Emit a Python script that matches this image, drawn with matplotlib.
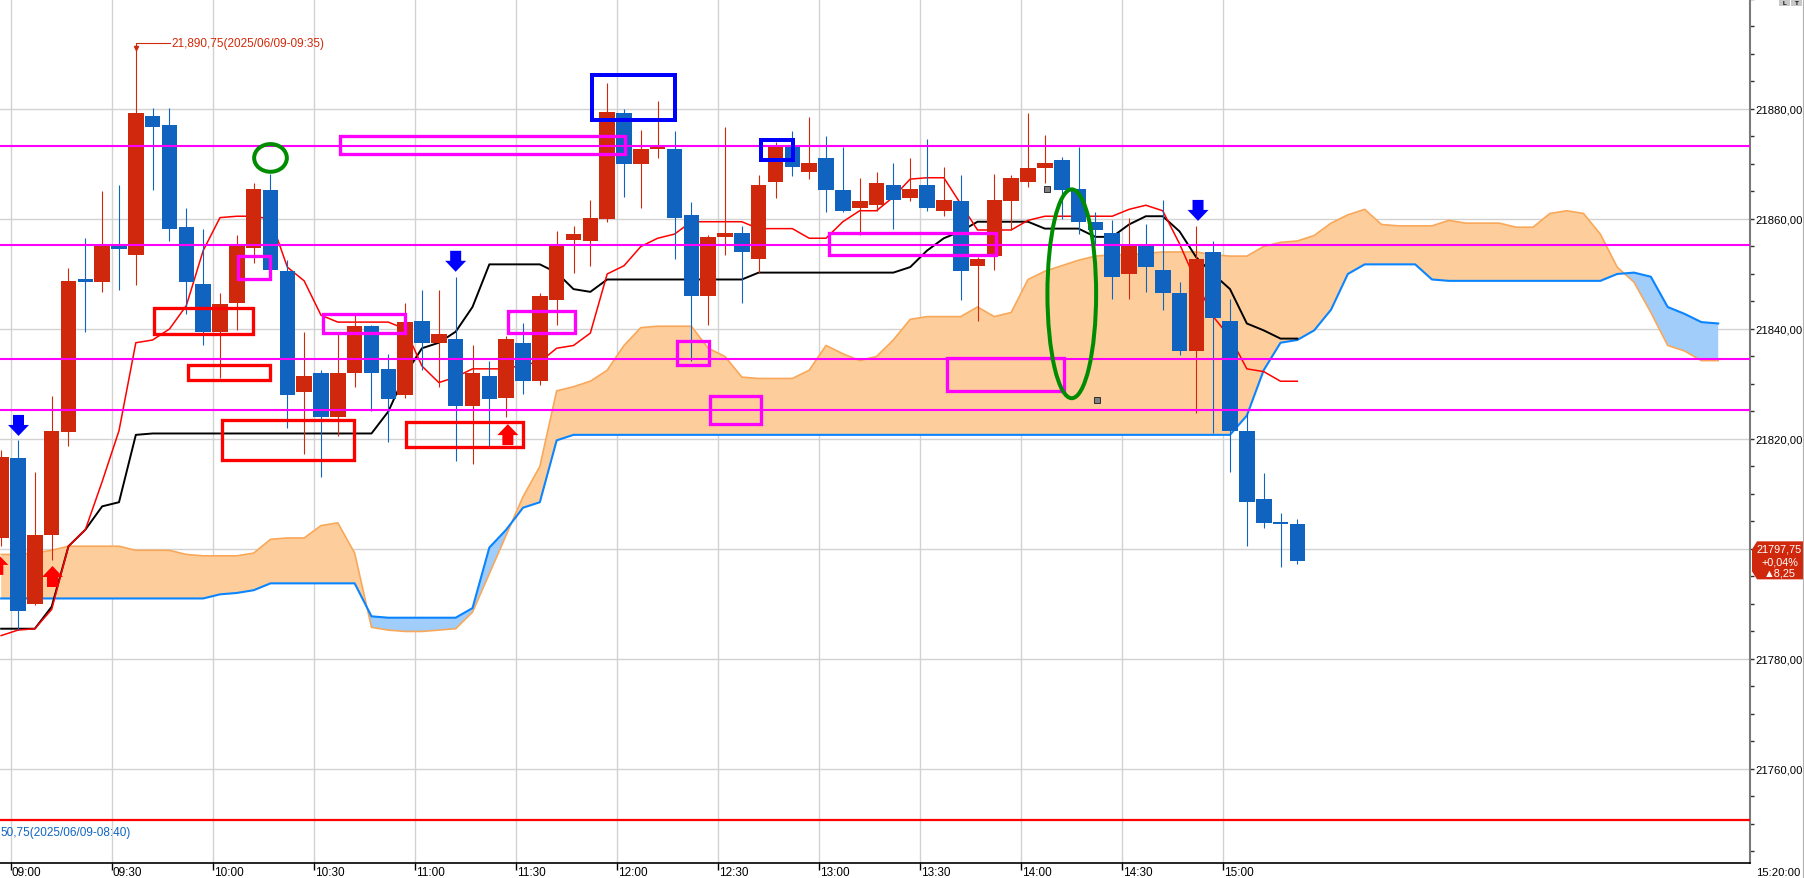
#!/usr/bin/env python3
import matplotlib
matplotlib.use("Agg")
import matplotlib.pyplot as plt
import matplotlib.ticker as mticker
from matplotlib.patches import Rectangle, Ellipse, Polygon
from matplotlib.transforms import blended_transform_factory

FONT = ['Liberation Sans', 'DejaVu Sans']
plt.rcParams['font.family'] = FONT

# ---- 5-minute bars, index 0 = 09:00 bar ----
BAR_INDEX = list(range(-1, 77))
OPEN = [
    21802.0, 21816.5, 21790.0, 21802.5, 21821.25, 21849.0, 21848.5, 21855.5, 21853.5, 21878.75,
    21877.0, 21858.5, 21848.25, 21839.5, 21844.75, 21854.75, 21865.25, 21850.5, 21828.5, 21832.0,
    21824.0, 21832.0, 21840.5, 21832.75, 21828.0, 21841.5, 21837.5, 21838.25, 21826.0, 21831.5,
    21827.5, 21837.5, 21830.5, 21845.25, 21856.25, 21856.0, 21860.0, 21879.25, 21870.0, 21872.75,
    21872.75, 21860.75, 21846.0, 21856.75, 21857.5, 21852.75, 21866.75, 21873.5, 21868.5, 21871.0,
    21865.25, 21862.0, 21862.5, 21866.25, 21863.75, 21866.25, 21861.5, 21863.25, 21851.5, 21853.25,
    21863.25, 21866.75, 21869.25, 21870.75, 21865.5, 21859.5, 21857.5, 21850.0, 21855.5, 21850.75,
    21846.5, 21836.0, 21854.0, 21841.5, 21821.5, 21809.0, 21804.75, 21804.5]
HIGH = [
    21818.0, 21819.75, 21814.0, 21827.75, 21851.0, 21856.5, 21865.0, 21866.25, 21890.75, 21880.25,
    21880.25, 21862.0, 21858.25, 21846.5, 21857.0, 21866.5, 21868.25, 21852.5, 21839.5, 21832.5,
    21839.0, 21842.5, 21840.75, 21835.5, 21844.75, 21847.0, 21847.0, 21849.5, 21837.0, 21834.25,
    21838.75, 21841.0, 21846.5, 21857.75, 21858.75, 21863.5, 21884.75, 21880.0, 21876.25, 21881.5,
    21876.0, 21863.0, 21857.0, 21876.75, 21858.75, 21868.0, 21874.0, 21876.0, 21878.5, 21875.0,
    21873.0, 21867.5, 21868.5, 21870.25, 21871.0, 21874.5, 21869.5, 21868.0, 21853.0, 21868.25,
    21868.0, 21879.25, 21875.25, 21871.25, 21873.0, 21861.25, 21859.75, 21860.25, 21859.0, 21863.5,
    21848.5, 21858.75, 21856.0, 21845.5, 21824.75, 21813.75, 21806.5, 21805.5]
LOW = [
    21800.5, 21785.25, 21789.75, 21798.0, 21818.75, 21839.5, 21846.75, 21847.0, 21848.0, 21865.25,
    21856.0, 21842.75, 21837.0, 21831.0, 21839.75, 21852.0, 21850.5, 21822.0, 21817.25, 21813.0,
    21820.5, 21829.5, 21825.0, 21819.5, 21827.5, 21832.5, 21829.5, 21816.0, 21815.5, 21818.5,
    21824.0, 21828.25, 21829.75, 21840.75, 21850.25, 21851.5, 21859.5, 21864.0, 21862.0, 21871.0,
    21852.75, 21834.25, 21840.75, 21853.5, 21844.75, 21850.25, 21863.75, 21867.75, 21867.25, 21861.25,
    21861.25, 21857.0, 21861.5, 21858.25, 21863.25, 21861.5, 21860.5, 21845.25, 21841.5, 21850.75,
    21858.0, 21865.75, 21866.5, 21860.0, 21857.25, 21855.25, 21845.5, 21845.5, 21846.75, 21843.5,
    21835.25, 21824.75, 21821.0, 21814.0, 21800.5, 21803.75, 21796.75, 21797.25]
CLOSE = [
    21816.75, 21788.75, 21802.5, 21821.5, 21848.75, 21848.5, 21855.0, 21854.5, 21879.25, 21876.75,
    21858.25, 21848.5, 21839.5, 21844.5, 21855.0, 21865.5, 21850.75, 21828.0, 21831.5, 21824.0,
    21832.0, 21840.5, 21832.0, 21827.25, 21841.25, 21837.5, 21839.0, 21826.0, 21832.0, 21827.25,
    21838.25, 21830.5, 21846.0, 21855.5, 21857.25, 21860.25, 21879.5, 21870.0, 21872.75, 21873.0,
    21860.25, 21846.0, 21856.75, 21857.5, 21854.0, 21866.25, 21873.0, 21869.5, 21870.25, 21865.25,
    21861.5, 21863.25, 21866.5, 21863.5, 21865.5, 21862.0, 21863.5, 21850.5, 21852.75, 21863.5,
    21867.5, 21869.25, 21870.25, 21865.25, 21859.5, 21858.0, 21849.5, 21855.5, 21851.25, 21846.5,
    21836.0, 21852.75, 21842.0, 21821.5, 21808.5, 21804.75, 21804.5, 21797.75]

# ---- ichimoku lines (conversion / base), same bars ----
TENKAN = [
    21784.25, 21785.25, 21785.5, 21789.0, 21800.5, 21803.5, 21812.25, 21821.5, 21837.5, 21838.0,
    21840.0, 21844.25, 21854.25, 21860.25, 21860.5, 21860.5, 21860.0, 21851.25, 21848.75, 21842.5,
    21841.25, 21841.25, 21841.25, 21841.25, 21840.0, 21833.25, 21830.25, 21831.25, 21832.75, 21832.75,
    21832.75, 21833.5, 21834.0, 21836.5, 21837.0, 21839.25, 21850.0, 21851.5, 21855.0, 21856.5,
    21857.25, 21859.5, 21859.5, 21859.5, 21859.5, 21858.25, 21858.25, 21858.25, 21856.5, 21856.5,
    21859.5, 21861.5, 21861.5, 21864.0, 21867.25, 21867.5, 21867.5, 21862.75, 21858.0, 21858.0,
    21858.0, 21859.75, 21860.5, 21860.5, 21860.5, 21860.5, 21860.5, 21861.75, 21862.5, 21861.5,
    21855.5, 21848.5, 21842.25, 21838.5, 21832.75, 21832.25, 21830.5, 21830.5]
KIJUN = [
    21785.5, 21785.5, 21785.5, 21789.5, 21800.5, 21803.5, 21807.75, 21808.5, 21820.75, 21821.0,
    21821.0, 21821.0, 21821.0, 21821.0, 21821.0, 21821.0, 21821.0, 21821.0, 21821.0, 21821.0,
    21821.0, 21821.0, 21821.0, 21825.0, 21831.75, 21836.5, 21837.5, 21839.5, 21844.0, 21851.75,
    21851.75, 21851.75, 21851.75, 21850.25, 21847.25, 21846.75, 21849.0, 21849.0, 21849.0, 21849.0,
    21849.0, 21849.0, 21849.0, 21849.0, 21849.0, 21850.25, 21850.25, 21850.25, 21850.25, 21850.25,
    21850.25, 21850.25, 21850.25, 21850.25, 21851.25, 21854.25, 21856.5, 21857.75, 21859.5, 21859.5,
    21859.5, 21859.5, 21858.25, 21858.25, 21858.25, 21856.75, 21856.75, 21859.0, 21860.5, 21860.5,
    21857.75, 21853.0, 21850.0, 21847.25, 21841.0, 21839.75, 21838.25, 21838.25]

# ---- leading spans (shifted forward), index -1 .. 101 ----
SPAN_INDEX = list(range(-1, 102))
SPAN_A = [
    21799.0, 21799.0, 21799.25, 21799.75, 21800.5, 21800.5, 21800.5, 21800.5, 21799.75, 21799.75,
    21799.75, 21799.0, 21798.75, 21798.75, 21798.75, 21799.25, 21801.75, 21802.0, 21802.0, 21804.25,
    21804.75, 21799.25, 21785.75, 21785.25, 21785.0, 21785.0, 21785.25, 21785.5, 21788.5, 21795.5,
    21802.5, 21809.5, 21815.0, 21828.75, 21829.5, 21830.5, 21832.5, 21837.0, 21840.25, 21840.5,
    21840.5, 21840.5, 21836.5, 21835.0, 21831.25, 21831.0, 21831.0, 21831.0, 21832.5, 21837.0,
    21835.5, 21834.25, 21835.0, 21838.0, 21841.75, 21842.25, 21842.25, 21842.25, 21844.0, 21842.25,
    21843.0, 21849.0, 21850.5, 21851.5, 21852.5, 21853.25, 21853.5, 21853.5, 21853.75, 21854.0,
    21854.0, 21854.0, 21853.5, 21853.25, 21853.25, 21855.0, 21855.75, 21856.0, 21857.0, 21859.25,
    21860.75, 21861.75, 21859.0, 21858.75, 21858.75, 21858.75, 21859.75, 21859.25, 21859.25, 21859.25,
    21858.5, 21858.5, 21861.0, 21861.5, 21861.0, 21857.25, 21851.25, 21848.5, 21843.0, 21837.0,
    21836.0, 21834.25, 21834.25]
SPAN_B = [
    21791.0, 21791.0, 21791.0, 21791.0, 21791.0, 21791.0, 21791.0, 21791.0, 21791.0, 21791.0,
    21791.0, 21791.0, 21791.0, 21791.75, 21792.0, 21792.5, 21793.75, 21793.75, 21793.75, 21793.75,
    21793.75, 21793.75, 21787.75, 21787.5, 21787.5, 21787.5, 21787.5, 21787.5, 21789.25, 21800.25,
    21803.5, 21807.5, 21808.5, 21819.75, 21820.75, 21820.75, 21820.75, 21820.75, 21820.75, 21820.75,
    21820.75, 21820.75, 21820.75, 21820.75, 21820.75, 21820.75, 21820.75, 21820.75, 21820.75, 21820.75,
    21820.75, 21820.75, 21820.75, 21820.75, 21820.75, 21820.75, 21820.75, 21820.75, 21820.75, 21820.75,
    21820.75, 21820.75, 21820.75, 21820.75, 21820.75, 21820.75, 21820.75, 21820.75, 21820.75, 21820.75,
    21820.75, 21820.75, 21820.75, 21820.75, 21824.25, 21832.5, 21837.5, 21838.0, 21839.75, 21843.5,
    21850.0, 21851.75, 21851.75, 21851.75, 21851.75, 21849.0, 21848.75, 21848.75, 21848.75, 21848.75,
    21848.75, 21848.75, 21848.75, 21848.75, 21848.75, 21848.75, 21850.0, 21850.25, 21849.5, 21844.0,
    21842.75, 21841.25, 21841.0]

# ---- drawn levels and markings ----
MAGENTA_LEVELS = [21873.25, 21855.25, 21834.5, 21825.25]
LOW_LEVEL = 21750.75
HIGH_BAR, HIGH_PRICE = 7, 21890.75
HIGH_TEXT = "21,890,75(2025/06/09-09:35)"
LOW_TEXT = "50,75(2025/06/09-08:40)"     # left part runs off the chart
LAST_TEXT = ["21797,75", "+0,04%", "\u25b28,25"]
TIME_LABELS = ["09:00", "09:30", "10:00", "10:30", "11:00", "11:30", "12:00",
               "12:30", "13:00", "13:30", "14:00", "14:30", "15:00"]
END_TIME = "15:20:00"
PRICE_LABELS = [21760, 21780, 21800, 21820, 21840, 21860, 21880]

# boxes: (bar from, bar to, price top, price bottom)
RED_BOXES = [(7.97, 14.08, 21844.2, 21838.7), (9.98, 15.09, 21833.8, 21830.4),
             (12.0, 20.08, 21823.8, 21815.8), (22.94, 30.12, 21823.3, 21818.2)]
MAGENTA_BOXES = [(19.01, 36.13, 21875.3, 21871.45), (12.95, 15.09, 21853.6, 21848.7),
                 (18.0, 23.11, 21843.1, 21838.9), (29.0, 33.16, 21843.6, 21838.9),
                 (39.04, 41.12, 21838.2, 21833.1), (41.0, 44.21, 21828.2, 21822.4),
                 (48.07, 58.17, 21857.8, 21853.1), (55.08, 62.21, 21835.1, 21828.4)]
BLUE_BOXES = [(33.99, 39.16, 21886.5, 21877.6), (44.03, 46.17, 21874.7, 21870.4)]
# ellipses: (bar, price, width in bars, height in points)
GREEN_ELLIPSES = [(15.0, 21871.1, 2.18, 5.76), (62.6, 21846.4, 3.13, 38.7)]
# arrow tips
BLUE_ARROWS = [(0.03, 21820.55), (26.0, 21850.4), (70.1, 21859.65)]
RED_ARROWS = [(-1.2, 21799.1), (2.05, 21796.9), (29.1, 21822.7)]
GREY_MARKS = [(61.1, 21865.45), (64.1, 21827.15)]

# ---- colours ----
C_UP = '#D0280C'
C_DOWN = '#1064C0'
C_CLOUD_UP = '#FDCE9C'
C_CLOUD_DN = '#A0CDFA'
C_SPAN_A = '#F9A85A'
C_SPAN_B = '#0A84FF'
C_GRID = '#D2D2D2'
C_LABEL_RED = '#D02A0A'

# ---- layout ----
W_PX, H_PX = 1804, 879
AX_RIGHT_PX, AX_BOTTOM_PX = 1750, 864
X_LIM = (-1.069, 102.89)
Y_LIM = (21742.9, 21900.0)
GRID_OFFSET = -0.434          # 09:00 gridline sits a little left of the bar
PXB = AX_RIGHT_PX / (X_LIM[1] - X_LIM[0])
PXP = AX_BOTTOM_PX / (Y_LIM[1] - Y_LIM[0])
FS = 8.5

fig = plt.figure(figsize=(W_PX / 100, H_PX / 100), dpi=100)
ax = fig.add_axes([0, (H_PX - AX_BOTTOM_PX) / H_PX, AX_RIGHT_PX / W_PX, AX_BOTTOM_PX / H_PX])
ax.set_xlim(*X_LIM)
ax.set_ylim(*Y_LIM)

# grid
tick_pos = [GRID_OFFSET + 6 * k for k in range(len(TIME_LABELS))]
for x in tick_pos:
    ax.axvline(x, color=C_GRID, lw=1.0, zorder=0)
for p in PRICE_LABELS:
    ax.axhline(p, color=C_GRID, lw=1.0, zorder=0)

# cloud
above = [a >= b for a, b in zip(SPAN_A, SPAN_B)]
below = [a < b for a, b in zip(SPAN_A, SPAN_B)]
ax.fill_between(SPAN_INDEX, SPAN_A, SPAN_B, where=above, interpolate=True,
                color=C_CLOUD_UP, lw=0, zorder=1)
ax.fill_between(SPAN_INDEX, SPAN_A, SPAN_B, where=below, interpolate=True,
                color=C_CLOUD_DN, lw=0, zorder=1)
ax.plot(SPAN_INDEX, SPAN_A, color=C_SPAN_A, lw=1.2, zorder=2)
ax.plot(SPAN_INDEX, SPAN_B, color=C_SPAN_B, lw=1.5, zorder=2.1)

# conversion / base lines
ax.plot(BAR_INDEX, KIJUN, color='black', lw=1.4, zorder=3)
ax.plot(BAR_INDEX, TENKAN, color='#FF0000', lw=1.1, zorder=3.1)

# candles
colors = [C_UP if c >= o else C_DOWN for o, c in zip(OPEN, CLOSE)]
bottoms = [min(o, c) for o, c in zip(OPEN, CLOSE)]
heights = [max(abs(c - o), 0.36) for o, c in zip(OPEN, CLOSE)]
ax.vlines(BAR_INDEX, LOW, HIGH, colors=colors, lw=0.8, zorder=4)
ax.bar(BAR_INDEX, heights, bottom=bottoms, width=0.93, color=colors, lw=0, zorder=4.1)

# horizontal levels
for p in MAGENTA_LEVELS:
    ax.axhline(p, color='#FF00FF', lw=1.5, zorder=5)
ax.axhline(LOW_LEVEL, color='#FF0000', lw=1.6, zorder=5)


def box(x0, x1, top, bot, color, stroke_px):
    ix = stroke_px / 2 / PXB
    iy = stroke_px / 2 / PXP
    ax.add_patch(Rectangle((x0 + ix, bot + iy), x1 - x0 - 2 * ix, top - bot - 2 * iy,
                           fill=False, ec=color, lw=stroke_px * 0.72, zorder=6))


for b in RED_BOXES:
    box(*b, '#FF0000', 3.3)
for b in MAGENTA_BOXES:
    box(*b, '#FF00FF', 3.3)
for b in BLUE_BOXES:
    box(*b, '#0000FF', 4.0)
for x, p, w, h in GREEN_ELLIPSES:
    ax.add_patch(Ellipse((x, p), w - 4 / PXB, h - 4 / PXP, fill=False,
                         ec='#008C00', lw=4 * 0.72, zorder=6))


def block_arrow(x, tip, up, color):
    hw, sw = 10.5 / PXB, 5.5 / PXB
    hh, sh = 11 / PXP, 10 / PXP
    d = 1 if up else -1
    base = tip - d * hh
    tail = base - d * sh
    pts = [(x, tip), (x + hw, base), (x + sw, base), (x + sw, tail),
           (x - sw, tail), (x - sw, base), (x - hw, base)]
    ax.add_patch(Polygon(pts, closed=True, fc=color, ec='none', zorder=6))


for x, p in BLUE_ARROWS:
    block_arrow(x, p, False, '#0000FF')
for x, p in RED_ARROWS:
    block_arrow(x, p, True, '#FF0000')
for x, p in GREY_MARKS:
    ax.plot(x, p, marker='s', ms=4, mfc='#808080', mec='#303030', mew=0.7, zorder=6)

# high / low labels
lead_y = HIGH_PRICE + 1.25
ax.plot([HIGH_BAR, HIGH_BAR, HIGH_BAR + 2.03], [HIGH_PRICE, lead_y, lead_y],
        color=C_LABEL_RED, lw=0.8, zorder=6)
ax.plot(HIGH_BAR, HIGH_PRICE + 0.4, marker='v', ms=3, color=C_LABEL_RED, zorder=6)
ax.text(HIGH_BAR + 2.1, lead_y, HIGH_TEXT, color=C_LABEL_RED, fontsize=FS,
        ha='left', va='center', zorder=7)
ax.text(X_LIM[0] + 0.02, LOW_LEVEL - 2.2, LOW_TEXT, color=C_DOWN, fontsize=FS,
        ha='left', va='center', zorder=7)

# axes styling
for side in ('top', 'left'):
    ax.spines[side].set_visible(False)
ax.spines['bottom'].set_color('black')
ax.spines['bottom'].set_linewidth(1.2)
ax.spines['right'].set_color('#7A7A7A')
ax.spines['right'].set_linewidth(1.5)

ax.yaxis.tick_right()
ax.yaxis.set_major_locator(mticker.FixedLocator(PRICE_LABELS))
ax.yaxis.set_minor_locator(mticker.MultipleLocator(5))
ax.yaxis.set_major_formatter(mticker.FuncFormatter(lambda v, _: f"{v:.2f}".replace('.', ',')))
ax.tick_params(axis='y', which='both', direction='out', length=3, width=1,
               color='#303030', pad=0.8, labelsize=8.1)

ax.set_xticks(tick_pos)
ax.set_xticklabels([])
ax.tick_params(axis='x', which='major', direction='out', length=5, width=1, color='black')
xtrans = blended_transform_factory(ax.transData, fig.transFigure)
for x, lab in zip(tick_pos, TIME_LABELS):
    ax.text(x + 0.06, 3.0 / H_PX, lab, transform=xtrans, fontsize=FS,
            ha='left', va='baseline', clip_on=False)
fig.text(1778 / W_PX, 3.0 / H_PX, END_TIME, fontsize=8.1, ha='center', va='baseline')

# last price tag
yc = H_PX - ax.transData.transform((0, CLOSE[-1]))[1]


def fx(px):
    return px / W_PX


def fy(py):
    return 1 - py / H_PX


tag = [(1757, yc - 20), (1803, yc - 20), (1803, yc + 18), (1757, yc + 18),
       (1752, yc + 10), (1752, yc - 12)]
fig.add_artist(Polygon([(fx(a), fy(b)) for a, b in tag], closed=True,
                       fc=C_UP, ec='none', transform=fig.transFigure))
for off, s in zip((-13, 0, 11), LAST_TEXT):
    fig.text(fx(1779.5), fy(yc + off), s, color='white', fontsize=7.8,
             ha='center', va='center')

# top-right buttons and border
for x0, s in ((1779, 'L'), (1791, 'T')):
    fig.add_artist(Rectangle((fx(x0), fy(7)), 11 / W_PX, 7 / H_PX, fc='#C8C8C8',
                             ec='none', transform=fig.transFigure))
    fig.text(fx(x0 + 5.5), fy(3.5), s, fontsize=4.5, fontweight='bold',
             ha='center', va='center')
fig.add_artist(plt.Line2D([fx(1802.5), fx(1802.5)], [0, 1], color='#B0B0B0', lw=0.8))

fig.savefig('out.png', dpi=100, facecolor='white')
